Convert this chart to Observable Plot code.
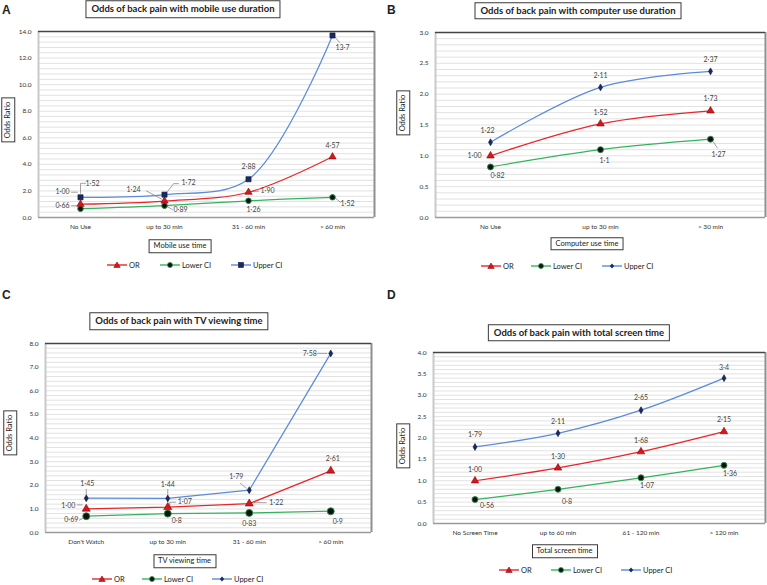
<!DOCTYPE html>
<html>
<head>
<meta charset="utf-8">
<script src="https://cdn.jsdelivr.net/npm/d3@7"></script>
<script src="https://cdn.jsdelivr.net/npm/@observablehq/plot@0.6"></script>
<style>
  body { margin: 0; background: #fff; }
  #page { position: relative; width: 767px; height: 585px; overflow: hidden;
          font-family: Lato, "Open Sans", "Noto Sans", sans-serif; color: #222; }
  .abs { position: absolute; }
  .center { transform: translate(-50%, -50%); }
  .box { border: 1px solid #3a3a3a; background: #fff; white-space: nowrap; line-height: 1; }
  .title { font-weight: 700; font-size: 9.5px; padding: 3px 5px; }
  .xtitle { font-size: 7.5px; padding: 2px 4px; }
  .ytitle { font-size: 7.5px; padding: 2px 3px; transform: translate(-50%, -50%) rotate(-90deg); }
  .letter { font-family: Arial, "Liberation Sans", sans-serif; font-weight: 700; font-size: 12px; }
  .legend { font-size: 7.5px; display: flex; align-items: center; white-space: nowrap; }
  .legend svg { margin-right: 2px; }
</style>
</head>
<body>
<div id="page"></div>
<script>
// Series shared by every panel
const seriesNames = ["OR", "Lower CI", "Upper CI"];

// A: mobile use duration
const mobileCats  = ["No Use", "up to 30 min", "31 - 60 min", "> 60 min"];
const mobileOR    = ["1.00", "1.24", "1.90", "4.57"];
const mobileLower = ["0.66", "0.89", "1.26", "1.52"];
const mobileUpper = ["1.52", "1.72", "2.88", "13.7"];

// B: computer use duration
const computerCats  = ["No Use", "up to 30 min", "> 30 min"];
const computerOR    = ["1.00", "1.52", "1.73"];
const computerLower = ["0.82", "1.1", "1.27"];
const computerUpper = ["1.22", "2.11", "2.37"];

// C: TV viewing time
const tvCats  = ["Don't Watch", "up to 30 min", "31 - 60 min", "> 60 min"];
const tvOR    = ["1.00", "1.07", "1.22", "2.61"];
const tvLower = ["0.69", "0.8", "0.83", "0.9"];
const tvUpper = ["1.45", "1.44", "1.79", "7.58"];

// D: total screen time
const screenCats  = ["No Screen Time", "up to 60 min", "61 - 120 min", "> 120 min"];
const screenOR    = ["1.00", "1.30", "1.68", "2.15"];
const screenLower = ["0.56", "0.8", "1.07", "1.36"];
const screenUpper = ["1.79", "2.11", "2.65", "3.4"];

// Styling per series (OR, Lower CI, Upper CI)
const lineColors = ["#e8262b", "#35b35c", "#5b8bd9"];
const markFill   = ["#d9161c", "#111111", "#1b2a5e"];
const markStroke = ["#7d0a0a", "#2b8d4b", "#0e1840"];

// Layout of the four panels. Label offsets are in pixels from the point
// ([dx, dy]); leaders are small polylines in pixel offsets from the point.
const panels = [
  {
    letter: "A", letterPos: [2, 3],
    title: "Odds of back pain with mobile use duration", titlePos: [183, 9],
    xTitle: "Mobile use time", xTitlePos: [180, 246], yTitlePos: [7.5, 120],
    cats: mobileCats, values: [mobileOR, mobileLower, mobileUpper],
    left: 0, top: 0, width: 384, height: 240,
    margin: {left: 38, right: 10, top: 31, bottom: 23},
    yMax: 14, major: 2, minor: 0.4, curve: "catmull-rom", upperSymbol: "square",
    dotR: [2.7, 2.8, 2.9],
    legendY: 265, legendX: [107, 160, 231],
    labelOff: [
      [[-18, -12], [-31, -11], [19, -2], [0, -11]],
      [[-18, -3], [16, 4], [5, 9], [15, 6]],
      [[12, -14], [24, -12], [0, -12], [10, 12]]
    ],
    leaders: [
      [[[-9, -12], [-3, -12]], [[-18, -10], [-3, -2]], [[4, -1], [10, -1]], null],
      [[[-9, -3], [-4, -3]], [[3, 1], [8, 4]], null, [[3, 1], [8, 5]]],
      [[[0, -4], [0, -14], [5, -14]], [[3, -3], [9, -11], [14, -11]], null, [[2, 1], [7, 7]]]
    ]
  },
  {
    letter: "B", letterPos: [387, 3],
    title: "Odds of back pain with computer use duration", titlePos: [578, 10.5],
    xTitle: "Computer use time", xTitlePos: [587, 243.5], yTitlePos: [402.5, 113],
    cats: computerCats, values: [computerOR, computerLower, computerUpper],
    left: 384, top: 0, width: 383, height: 240,
    margin: {left: 51, right: 2, top: 32, bottom: 23},
    yMax: 3, major: 0.5, minor: 0.1, curve: "catmull-rom", upperSymbol: "diamond",
    dotR: [2.8, 3, 2.1],
    legendY: 266, legendX: [481, 531, 602],
    labelOff: [
      [[-16, 0], [0, -11], [0, -12]],
      [[7, 9], [4, 11], [8, 16]],
      [[-3, -12], [0, -12], [0, -12]]
    ],
    leaders: [
      [null, null, null],
      [null, null, [[3, 3], [7, 9]]],
      [null, null, null]
    ]
  },
  {
    letter: "C", letterPos: [2, 288],
    title: "Odds of back pain with TV viewing time", titlePos: [179, 321],
    xTitle: "TV viewing time", xTitlePos: [184.5, 561], yTitlePos: [9.5, 433],
    cats: tvCats, values: [tvOR, tvLower, tvUpper],
    left: 0, top: 300, width: 384, height: 250,
    margin: {left: 45, right: 13, top: 43, bottom: 18},
    yMax: 8, major: 1, minor: 0.2, curve: "linear", upperSymbol: "diamond",
    dotR: [3, 3.5, 2.1],
    legendY: 579, legendX: [92, 142, 212],
    labelOff: [
      [[-18, -3], [17, -5], [27, -1], [2, -12]],
      [[-15, 4], [9, 7], [0, 11], [7, 11]],
      [[1, -14], [0, -14], [-13, -13], [-21, 0]]
    ],
    leaders: [
      [[[-9, -4], [-4, -4]], [[2, -1], [2, -5], [8, -5]], [[5, -1], [17, -1]], null],
      [[[-7, 4], [-3, 2]], null, null, null],
      [[[0, -9], [0, -4]], [[0, -9], [0, -4]], [[-9, -7], [-3, -2]], [[-13, 0], [-4, 0]]]
    ]
  },
  {
    letter: "D", letterPos: [387, 288],
    title: "Odds of back pain with total screen time", titlePos: [579, 332.5],
    xTitle: "Total screen time", xTitlePos: [564.5, 551], yTitlePos: [402.5, 446],
    cats: screenCats, values: [screenOR, screenLower, screenUpper],
    left: 384, top: 300, width: 383, height: 245,
    margin: {left: 49, right: 2, top: 52, bottom: 22},
    yMax: 4, major: 0.5, minor: 0.1, curve: "catmull-rom", upperSymbol: "diamond",
    dotR: [2.8, 3, 2.1],
    legendY: 570, legendX: [499, 551, 621],
    labelOff: [
      [[0, -11], [0, -11], [0, -11], [0, -12]],
      [[12, 6], [9, 12], [6, 8], [6, 8]],
      [[0, -12], [0, -12], [0, -12], [0, -10]]
    ],
    leaders: [
      [null, null, null, null],
      [null, null, null, null],
      [null, null, null, null]
    ]
  }
];

const page = document.getElementById("page");

function addDiv(cls, html, x, y, centered = true) {
  const el = document.createElement("div");
  el.className = "abs " + cls + (centered ? " center" : "");
  el.innerHTML = html;
  el.style.left = x + "px";
  el.style.top = y + "px";
  page.appendChild(el);
  return el;
}

function markerSvg(s, upperSymbol) {
  const c = lineColors[s], f = markFill[s], k = markStroke[s];
  let shape;
  if (s === 0) shape = `<path d="M10,2 L13.2,7.4 L6.8,7.4 Z" fill="${f}" stroke="${k}" stroke-width="0.6"/>`;
  else if (s === 1) shape = `<circle cx="10" cy="5" r="2.5" fill="${f}" stroke="${k}" stroke-width="0.8"/>`;
  else if (upperSymbol === "square") shape = `<rect x="7.5" y="2.5" width="5" height="5" fill="${f}" stroke="${k}" stroke-width="0.6"/>`;
  else shape = `<path d="M10,2.6 L12.2,5 L10,7.4 L7.8,5 Z" fill="${f}"/>`;
  return `<svg width="20" height="10" viewBox="0 0 20 10"><line x1="0" y1="5" x2="20" y2="5" stroke="${c}" stroke-width="1.4"/>${shape}</svg>`;
}

function drawPanel(p) {
  const n = p.cats.length;
  const plotW = p.width - p.margin.left - p.margin.right;
  const plotH = p.height - p.margin.top - p.margin.bottom;
  const bw = plotW / n;          // pixels per category slot
  const ppu = plotH / p.yMax;    // pixels per odds-ratio unit

  const rows = [];
  p.values.forEach((vals, s) => vals.forEach((t, i) => rows.push({
    s, i, v: +t, label: t.replace(".", "\u00b7"),
    lx: i + p.labelOff[s][i][0] / bw,
    ly: +t - p.labelOff[s][i][1] / ppu
  })));

  const leaderRows = [];
  rows.forEach((r, k) => {
    const path = p.leaders[r.s][r.i];
    if (!path) return;
    path.forEach(([dx, dy]) => leaderRows.push({id: k, x: r.i + dx / bw, y: r.v - dy / ppu}));
  });

  const eps = 1e-9;
  const symbols = ["triangle", "circle", p.upperSymbol];

  const marks = [
    Plot.ruleY(d3.range(0, p.yMax + eps, p.minor).map(v => +v.toFixed(6)), {stroke: "#e2e2e2", strokeWidth: 1}),
    Plot.ruleX([-0.5], {stroke: "#c9c9c9", strokeWidth: 2}),
    Plot.ruleX([n - 0.5], {stroke: "#8f8f8f", strokeWidth: 2}),
    Plot.ruleY([0], {stroke: "#9a9a9a", strokeWidth: 1.5}),
    Plot.ruleY([p.yMax], {stroke: "#444", strokeWidth: 1.5}),
    Plot.axisX({ticks: d3.range(n), tickFormat: i => p.cats[i], tickSize: 0, tickPadding: 7,
                fontSize: 6.5, fill: "#333", label: null}),
    Plot.axisY({ticks: d3.range(0, p.yMax + eps, p.major).map(v => +v.toFixed(6)),
                tickFormat: d3.format(".1f"), tickSize: 0, tickPadding: 7,
                fontSize: 6.5, fill: "#333", label: null}),
    Plot.line(leaderRows, {x: "x", y: "y", z: "id", stroke: "#8a8a8a", strokeWidth: 0.8})
  ];
  [2, 0, 1].forEach(s => {
    marks.push(Plot.line(rows.filter(r => r.s === s),
      {x: "i", y: "v", stroke: lineColors[s], strokeWidth: 1.25, curve: p.curve}));
  });
  [1, 0, 2].forEach(s => {
    marks.push(Plot.dot(rows.filter(r => r.s === s),
      {x: "i", y: "v", symbol: () => symbols[s], r: p.dotR[s],
       fill: markFill[s], stroke: markStroke[s], strokeWidth: s === 1 ? 0.9 : 0.6}));
  });
  marks.push(Plot.text(rows, {x: "lx", y: "ly", text: "label", fontSize: 7, fill: "#444",
                              textAnchor: "middle", lineAnchor: "middle"}));

  const chart = Plot.plot({
    width: p.width, height: p.height,
    marginLeft: p.margin.left, marginRight: p.margin.right,
    marginTop: p.margin.top, marginBottom: p.margin.bottom,
    x: {domain: [-0.5, n - 0.5]},
    y: {domain: [0, p.yMax]},
    symbol: {type: "identity"},
    style: {fontFamily: 'Lato, "Open Sans", sans-serif', background: "transparent", overflow: "visible"},
    marks
  });
  chart.style.position = "absolute";
  chart.style.left = p.left + "px";
  chart.style.top = p.top + "px";
  page.appendChild(chart);

  addDiv("letter", p.letter, p.letterPos[0], p.letterPos[1], false);
  addDiv("box title", p.title, p.titlePos[0], p.titlePos[1]);
  addDiv("box xtitle", p.xTitle, p.xTitlePos[0], p.xTitlePos[1]);
  addDiv("box ytitle", "Odds Ratio", p.yTitlePos[0], p.yTitlePos[1], false);

  seriesNames.forEach((name, s) => {
    const el = addDiv("legend", markerSvg(s, p.upperSymbol) + `<span>${name}</span>`, p.legendX[s], p.legendY, false);
    el.style.transform = "translateY(-50%)";
  });
}

panels.forEach(drawPanel);
</script>
</body>
</html>
